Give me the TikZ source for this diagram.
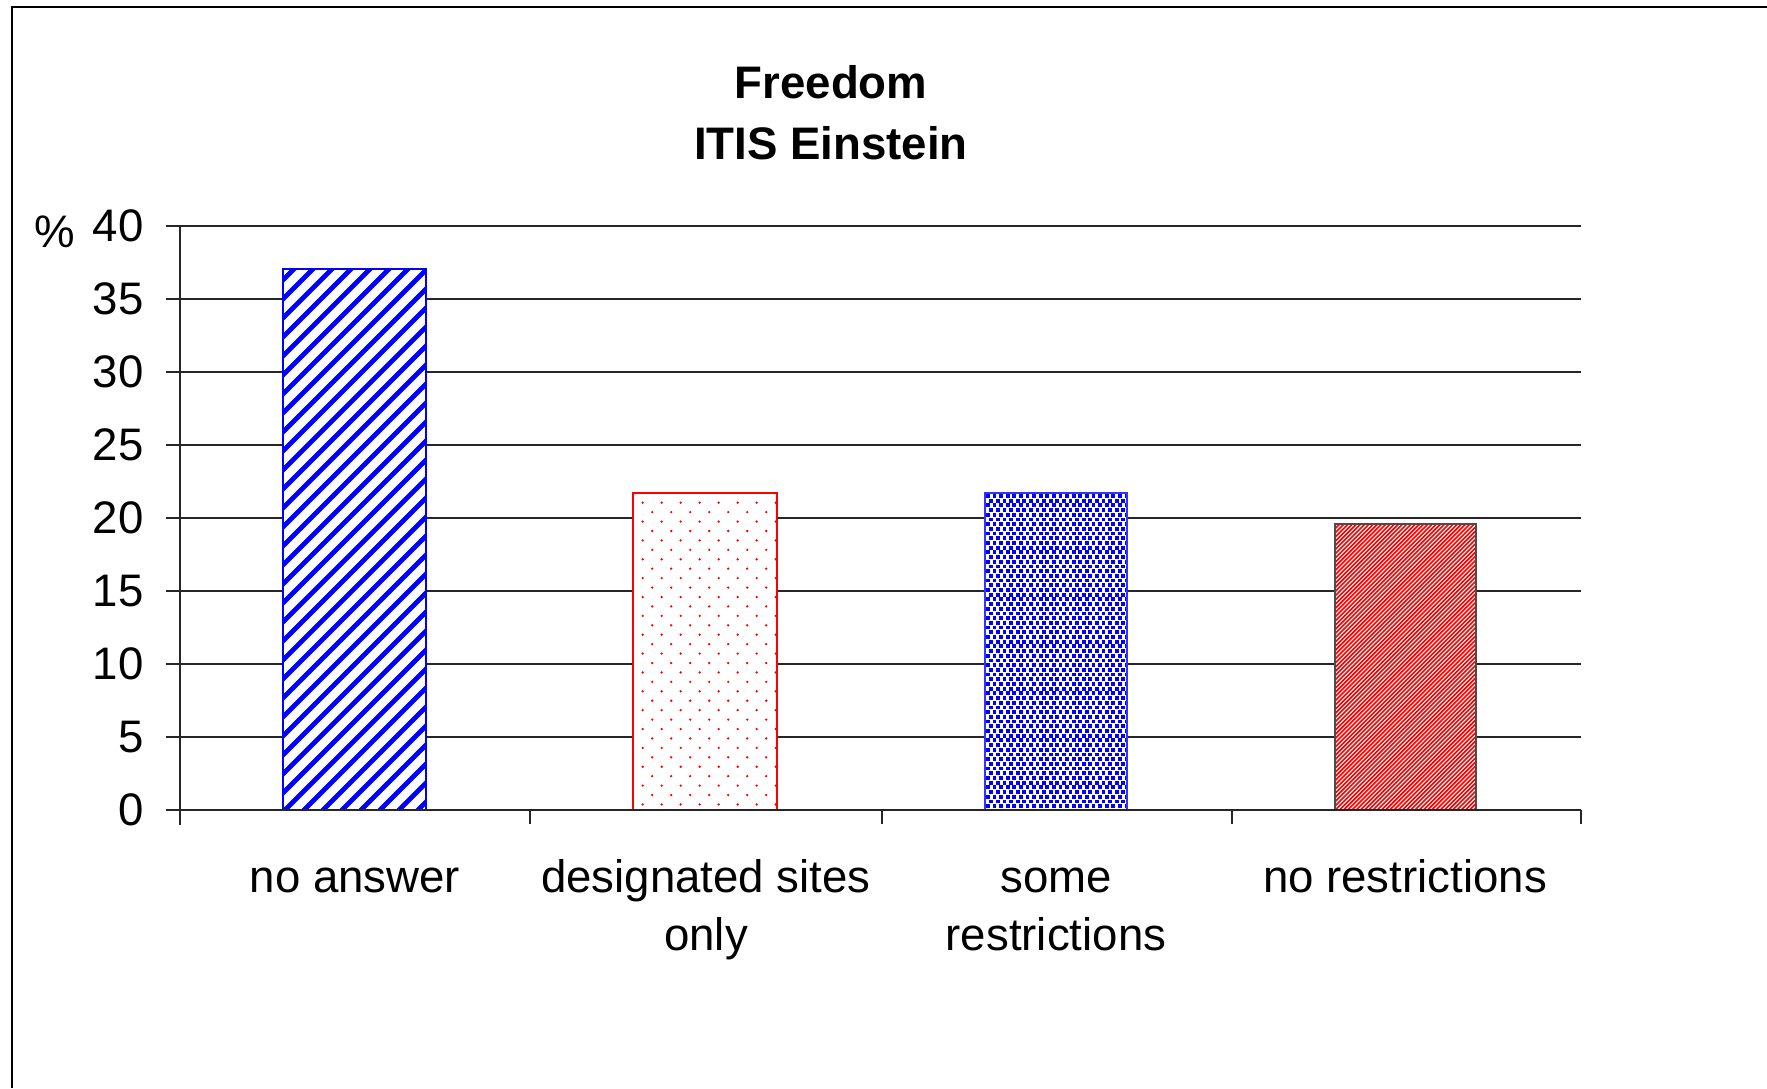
\documentclass[tikz,border=0pt]{standalone}
\usepackage{fontspec}
\setmainfont{Liberation Sans}
\begin{document}
\begin{tikzpicture}[x=0.5pt,y=-0.5pt,
  lbl/.style={font=\fontsize{22.8}{27}\selectfont, inner sep=0pt},
  ttl/.style={font=\fontsize{22.8}{27}\selectfont\bfseries, inner sep=0pt},
  gridln/.style={line width=1pt, black!85},
  axisln/.style={line width=1pt, black!85},
  barout/.style={line width=1pt},
]
\useasboundingbox (0,0) rectangle (1767,1088);
\fill[white] (0,0) rectangle (1767,1088);
% frame
\draw[line width=1.3pt] (12,1088) -- (12,7) -- (1767,7);
% title
\node[ttl, anchor=base] (t1) at (831,98) {Freedom};
\node[ttl, anchor=base] (t2) at (831,159) {ITIS Einstein};
% gridlines
\foreach \v in {5,10,...,40}
  \draw[gridln] (166,{810-14.608*\v}) -- (1581,{810-14.608*\v});
% y labels
\foreach \v in {0,5,...,40}
  \node[lbl, anchor=east] (y\v) at (144,{810-14.608*\v}) {\v};
\node[lbl, anchor=base west] (pct) at (34,247) {\%};
% bar 1: no answer (37)
\fill[white] (283,269) rectangle (426,810);
\begin{scope}
  \clip (283,269) rectangle (426,810);
  \foreach \k in {0,...,42}
    \draw[blue, line width=2.4pt] ({-287+19*\k},812) -- ({-287+19*\k+600},212);
\end{scope}
\draw[barout, blue] (283,269) rectangle (426,810);
% bar 2: designated sites only (21.7)
\fill[white] (633,493) rectangle (777,810);
\begin{scope}
  \clip (633,493) rectangle (777,810);
  \foreach \r in {0,...,33}
    \foreach \c in {0,...,8}
      \fill[red] ({642.7+19*\c+9.5*mod(\r,2)},{502.7+9.43*\r}) circle (1.3);
\end{scope}
\draw[barout, red] (633,493) rectangle (777,810);
% bar 3: some restrictions (21.7)
\fill[white] (985,493) rectangle (1127,810);
\begin{scope}
  \clip (985,493) rectangle (1127,810);
  \foreach \r in {0,...,68}
    \foreach \c in {0,...,22}
      \fill[blue] ({986+6.6*\c+3.3*mod(\r,2)},{494+4.7*\r}) rectangle +(3.8,3.8);
\end{scope}
\draw[barout, blue!80!white] (985,493) rectangle (1127,810);
% bar 4: no restrictions (19.6)
\fill[white] (1335,524) rectangle (1476,810);
\begin{scope}
  \clip (1335,524) rectangle (1476,810);
  \foreach \k in {0,...,110}
    \draw[red, line width=0.8pt] ({1335-300+4.2*\k},812) -- ({1335-300+4.2*\k+400},412);
\end{scope}
\draw[barout, black!70] (1335,524) rectangle (1476,810);
% axes
\draw[axisln] (180,225.7) -- (180,825);
\draw[axisln] (166,810) -- (1581,810);
\foreach \x in {530,882,1232,1581}
  \draw[axisln] (\x,810) -- (\x,824);
% category labels
\node[lbl, anchor=base] (c1) at (355,892) {no answer};
\node[lbl, anchor=base] (c2a) at (706,892) {designated sites};
\node[lbl, anchor=base] (c2b) at (706,950) {only};
\node[lbl, anchor=base] (c3a) at (1056,892) {some};
\node[lbl, anchor=base] (c3b) at (1056,950) {restrictions};
\node[lbl, anchor=base] (c4) at (1405,892) {no restrictions};
\end{tikzpicture}
\end{document}
